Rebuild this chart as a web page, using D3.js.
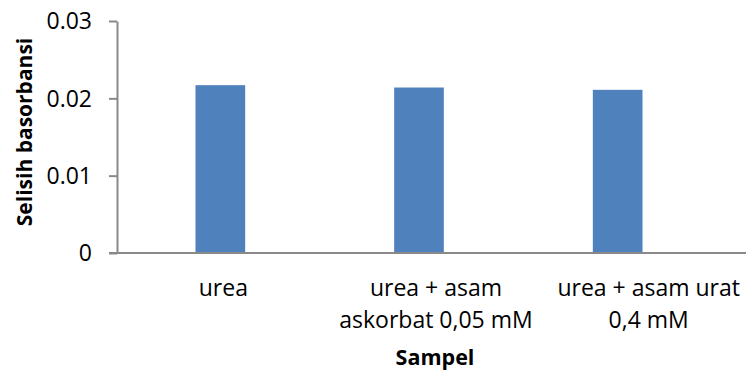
<!DOCTYPE html>
<html>
<head>
<meta charset="utf-8">
<script src="https://cdn.jsdelivr.net/npm/d3@7"></script>
<style>
  html, body { margin: 0; padding: 0; background: #fff; }
  svg { display: block; }
  text { font-family: "Open Sans", "Noto Sans", sans-serif; fill: #000; }
</style>
</head>
<body>
<svg id="chart" width="747" height="373"></svg>
<script>
// Absorbance difference per sample
const categories = ["urea", "urea + asam askorbat 0,05 mM", "urea + asam urat 0,4 mM"];
const categoryLines = [["urea"], ["urea + asam", "askorbat 0,05 mM"], ["urea + asam urat", "0,4 mM"]];
const values = [0.0217, 0.0214, 0.0211];
const yTicks = [0, 0.01, 0.02, 0.03];
const yTickLabels = ["0", "0.01", "0.02", "0.03"];

const svg = d3.select("#chart");
const axisColor = "#898989";
const barColor = "#4f81bd";

const plotLeft = 117, plotRight = 746, plotTop = 21, plotBottom = 253;

const y = d3.scaleLinear().domain([0, 0.03]).range([plotBottom, plotTop]);

// bars sit in their own band layout (gap width 300%)
const xBars = d3.scaleBand().domain(categories).range([121, 717]).paddingInner(0.75).paddingOuter(0.375);
// category labels are spread along the full axis
const xLabels = d3.scaleBand().domain(categories).range([plotLeft, 755]);

// y axis
const yAxis = d3.axisLeft(y)
  .tickValues(yTicks)
  .tickFormat((d, i) => yTickLabels[i])
  .tickSize(8)
  .tickSizeOuter(0)
  .tickPadding(17);

const gy = svg.append("g").attr("transform", `translate(${plotLeft},0)`).call(yAxis);
gy.select(".domain").attr("stroke", axisColor).attr("stroke-width", 2);
gy.selectAll(".tick line").attr("stroke", axisColor).attr("stroke-width", 2);
gy.selectAll(".tick text")
  .style("font-family", "'Open Sans', sans-serif")
  .style("font-size", "23px")
  .attr("fill", "#000")
  .attr("dy", "0.34em");

// bars
svg.append("g").selectAll("rect")
  .data(values)
  .join("rect")
  .attr("x", (d, i) => xBars(categories[i]))
  .attr("width", xBars.bandwidth())
  .attr("y", d => y(d))
  .attr("height", d => y(0) - y(d))
  .attr("fill", barColor);

// x axis baseline
svg.append("line")
  .attr("x1", plotLeft - 8).attr("x2", plotRight)
  .attr("y1", y(0)).attr("y2", y(0))
  .attr("stroke", axisColor).attr("stroke-width", 2);

// category labels
const labels = svg.append("g").selectAll("text")
  .data(categoryLines)
  .join("text")
  .attr("text-anchor", "middle")
  .style("font-size", "23px")
  .attr("transform", (d, i) => `translate(${xLabels(categories[i]) + xLabels.bandwidth() / 2},296)`);
labels.selectAll("tspan")
  .data(d => d)
  .join("tspan")
  .attr("x", 0)
  .attr("y", (d, j) => j * 32)
  .text(d => d);

// axis titles
svg.append("text")
  .attr("text-anchor", "middle")
  .attr("transform", `translate(435,365)`)
  .style("font-size", "21.5px")
  .style("font-weight", "bold")
  .text("Sampel");

svg.append("text")
  .attr("text-anchor", "middle")
  .attr("transform", `translate(32,132) rotate(-90)`)
  .style("font-size", "21px")
  .style("font-weight", "bold")
  .text("Selisih basorbansi");
</script>
</body>
</html>
